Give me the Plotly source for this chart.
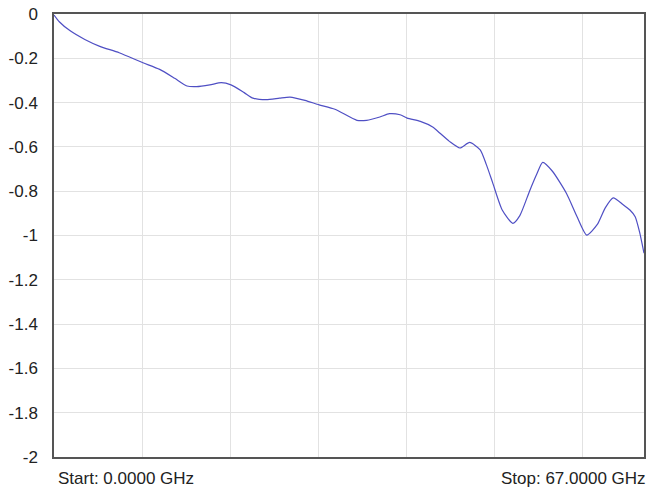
import plotly.graph_objects as go

freq_ghz = [0.0, 0.6, 1.8, 3.5, 5.2, 7.4, 10.1, 12.0, 13.7, 15.1, 16.2, 17.7, 19.0, 20.1,
            21.6, 22.6, 24.1, 25.6, 26.8, 28.5, 30.1, 31.9, 34.4, 35.5, 37.0, 38.1, 39.3,
            40.1, 41.6, 43.0, 43.8, 44.9, 46.1, 47.2, 48.4, 49.1, 49.8, 50.9, 52.1, 52.9,
            54.0, 54.8, 55.5, 56.6, 58.2, 59.4, 60.5, 61.7, 62.6, 63.5, 64.6, 65.4, 66.0,
            66.5, 67.0]
s21_db = [-0.005, -0.035, -0.075, -0.115, -0.146, -0.175, -0.22, -0.25, -0.29, -0.325,
          -0.328, -0.32, -0.31, -0.32, -0.355, -0.38, -0.387, -0.38, -0.375, -0.39, -0.41,
          -0.43, -0.48, -0.48, -0.465, -0.45, -0.455, -0.47, -0.485, -0.51, -0.537, -0.575,
          -0.605, -0.58, -0.613, -0.68, -0.76, -0.885, -0.945, -0.91, -0.80, -0.725, -0.67,
          -0.71, -0.81, -0.915, -0.998, -0.95, -0.875, -0.83, -0.86, -0.885, -0.915, -0.985,
          -1.08]

y_ticks = [0, -0.2, -0.4, -0.6, -0.8, -1, -1.2, -1.4, -1.6, -1.8, -2]
y_labels = ["0", "-0.2", "-0.4", "-0.6", "-0.8", "-1", "-1.2", "-1.4", "-1.6", "-1.8", "-2"]
start_label = "Start: 0.0000 GHz"
stop_label = "Stop: 67.0000 GHz"

fig = go.Figure()
fig.add_trace(go.Scatter(x=freq_ghz, y=s21_db, mode="lines", line_shape="spline",
                         line=dict(color="#4f4fc4", width=1.2, smoothing=0.6),
                         showlegend=False))

fig.update_layout(
    width=656, height=491,
    margin=dict(l=54, r=12, t=14, b=34, pad=0, autoexpand=False),
    paper_bgcolor="white", plot_bgcolor="white",
    font=dict(family="Liberation Sans, Arial, sans-serif", size=17, color="#222"),
    xaxis=dict(range=[0, 67], dtick=10, tick0=0, showticklabels=False, automargin=False,
               showgrid=True, gridcolor="#e2e2e2", gridwidth=1, zeroline=False,
               showline=True, linecolor="#555", linewidth=1.5, mirror=True, ticks=""),
    yaxis=dict(range=[-2, 0], tickvals=y_ticks, ticktext=y_labels, automargin=False,
               showgrid=True, gridcolor="#e2e2e2", gridwidth=1, zeroline=False,
               showline=True, linecolor="#555", linewidth=1.5, mirror=True, ticks="",
               ticklabelstandoff=11, tickfont=dict(size=17)),
    annotations=[
        dict(text=start_label, xref="paper", yref="paper", x=0.003, y=-0.048,
             xanchor="left", yanchor="middle", showarrow=False,
             font=dict(size=17, color="#222")),
        dict(text=stop_label, xref="paper", yref="paper", x=1.006, y=-0.048,
             xanchor="right", yanchor="middle", showarrow=False,
             font=dict(size=17, color="#222")),
    ],
)

fig.write_html("out.html", config={"displayModeBar": False},
               post_script="document.body.style.margin='0';document.body.style.padding='0';")
